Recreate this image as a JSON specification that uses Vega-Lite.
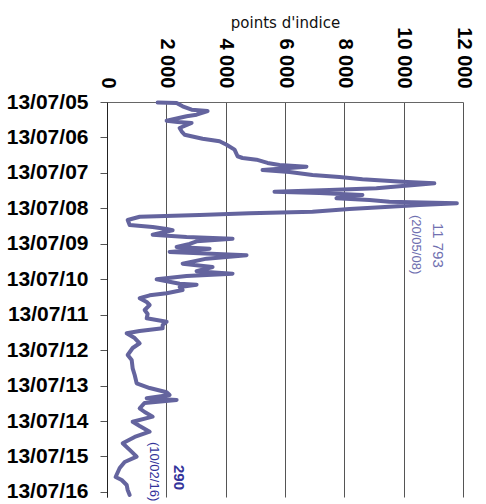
{
  "$schema": "https://vega.github.io/schema/vega-lite/v6.json",
  "width": 356,
  "height": 395,
  "autosize": {"type": "none"},
  "padding": {"left": 107, "top": 102, "right": 23, "bottom": 7},
  "background": "white",
  "config": {"view": {"stroke": null}},
  "datasets": {
    "bdi": [
      {"date": "2005-07-18", "value": 1707}, {"date": "2005-07-23", "value": 2347}, {"date": "2005-08-26", "value": 2549},
      {"date": "2005-09-30", "value": 2852}, {"date": "2005-10-14", "value": 3391}, {"date": "2005-11-21", "value": 3020},
      {"date": "2005-12-07", "value": 2683}, {"date": "2006-01-22", "value": 2010}, {"date": "2006-02-04", "value": 2380},
      {"date": "2006-02-14", "value": 2852}, {"date": "2006-04-07", "value": 2448}, {"date": "2006-05-11", "value": 2515},
      {"date": "2006-06-15", "value": 2616}, {"date": "2006-07-26", "value": 3222}, {"date": "2006-08-22", "value": 3794},
      {"date": "2006-09-26", "value": 4030}, {"date": "2006-11-16", "value": 4300}, {"date": "2007-01-23", "value": 4401},
      {"date": "2007-02-10", "value": 4569}, {"date": "2007-02-27", "value": 5040}, {"date": "2007-04-02", "value": 5411},
      {"date": "2007-04-23", "value": 5815}, {"date": "2007-05-11", "value": 6724}, {"date": "2007-05-24", "value": 6152},
      {"date": "2007-06-14", "value": 5243}, {"date": "2007-07-04", "value": 6152}, {"date": "2007-08-04", "value": 6926},
      {"date": "2007-08-25", "value": 7835}, {"date": "2007-09-17", "value": 8610}, {"date": "2007-10-12", "value": 9956},
      {"date": "2007-10-29", "value": 11034}, {"date": "2007-11-15", "value": 10360}, {"date": "2007-11-25", "value": 9956},
      {"date": "2007-12-19", "value": 9081}, {"date": "2008-01-06", "value": 7498}, {"date": "2008-01-23", "value": 5646},
      {"date": "2008-02-06", "value": 7161}, {"date": "2008-02-26", "value": 8610}, {"date": "2008-03-13", "value": 7835},
      {"date": "2008-03-31", "value": 7734}, {"date": "2008-04-18", "value": 8845}, {"date": "2008-05-05", "value": 9518},
      {"date": "2008-05-20", "value": 11793}, {"date": "2008-06-08", "value": 10528}, {"date": "2008-06-26", "value": 9518},
      {"date": "2008-07-19", "value": 8172}, {"date": "2008-08-16", "value": 6926}, {"date": "2008-09-02", "value": 4805},
      {"date": "2008-09-19", "value": 3121}, {"date": "2008-10-07", "value": 1101}, {"date": "2008-11-10", "value": 697},
      {"date": "2008-12-31", "value": 764}, {"date": "2009-01-21", "value": 1539}, {"date": "2009-02-10", "value": 2010},
      {"date": "2009-02-24", "value": 2212}, {"date": "2009-04-10", "value": 1539}, {"date": "2009-05-04", "value": 2683},
      {"date": "2009-05-21", "value": 4232}, {"date": "2009-06-17", "value": 3020}, {"date": "2009-07-15", "value": 2785},
      {"date": "2009-08-15", "value": 2347}, {"date": "2009-09-01", "value": 3458}, {"date": "2009-10-05", "value": 2111},
      {"date": "2009-11-08", "value": 4704}, {"date": "2009-12-13", "value": 3357}, {"date": "2010-02-03", "value": 2549},
      {"date": "2010-03-09", "value": 3559}, {"date": "2010-04-22", "value": 3020}, {"date": "2010-05-17", "value": 4232},
      {"date": "2010-06-10", "value": 2683}, {"date": "2010-07-14", "value": 1673}, {"date": "2010-08-28", "value": 2448},
      {"date": "2010-09-07", "value": 3020}, {"date": "2010-10-01", "value": 2448}, {"date": "2010-11-01", "value": 2549},
      {"date": "2010-12-05", "value": 2010}, {"date": "2010-12-26", "value": 1438}, {"date": "2011-01-25", "value": 1101},
      {"date": "2011-03-05", "value": 1337}, {"date": "2011-04-05", "value": 1438}, {"date": "2011-05-26", "value": 1269},
      {"date": "2011-07-06", "value": 1370}, {"date": "2011-08-20", "value": 1337}, {"date": "2011-09-24", "value": 2010},
      {"date": "2011-10-28", "value": 1875}, {"date": "2011-12-01", "value": 1875}, {"date": "2011-12-28", "value": 1101},
      {"date": "2012-01-21", "value": 663}, {"date": "2012-03-10", "value": 933}, {"date": "2012-05-03", "value": 1101},
      {"date": "2012-06-21", "value": 865}, {"date": "2012-09-01", "value": 697}, {"date": "2012-10-22", "value": 832},
      {"date": "2013-01-16", "value": 865}, {"date": "2013-03-26", "value": 933}, {"date": "2013-06-19", "value": 1000},
      {"date": "2013-08-07", "value": 1438}, {"date": "2013-09-20", "value": 2010}, {"date": "2013-10-18", "value": 2111},
      {"date": "2013-11-21", "value": 1337}, {"date": "2013-12-08", "value": 2347}, {"date": "2014-01-08", "value": 1269},
      {"date": "2014-03-04", "value": 1101}, {"date": "2014-04-11", "value": 1269}, {"date": "2014-05-29", "value": 1539},
      {"date": "2014-07-20", "value": 865}, {"date": "2014-09-02", "value": 1101}, {"date": "2014-10-31", "value": 1438},
      {"date": "2014-12-24", "value": 933}, {"date": "2015-02-27", "value": 529}, {"date": "2015-05-07", "value": 764},
      {"date": "2015-07-15", "value": 1000}, {"date": "2015-09-08", "value": 596}, {"date": "2015-11-09", "value": 428},
      {"date": "2016-02-10", "value": 290}, {"date": "2016-03-12", "value": 495}, {"date": "2016-05-02", "value": 663},
      {"date": "2016-06-23", "value": 697}, {"date": "2016-08-13", "value": 764}
    ],
    "notes": [
      {"label": "11 793", "kind": "maxValue", "date": "2008-12-11", "value": 11168},
      {"label": "(20/05/08)", "kind": "maxDate", "date": "2008-09-19", "value": 10428},
      {"label": "290", "kind": "minValue", "date": "2015-10-09", "value": 2414},
      {"label": "(10/02/16)", "kind": "minDate", "date": "2015-02-14", "value": 1572}
    ]
  },
  "encoding": {
    "x": {
      "field": "value", "type": "quantitative",
      "scale": {"domain": [0, 12000], "nice": false, "zero": true},
      "axis": {
        "orient": "top",
        "values": [0, 2000, 4000, 6000, 8000, 10000, 12000],
        "labelExpr": "replace(format(datum.value, ','), ',', ' ')",
        "labelAngle": 90, "labelAlign": "right", "labelBaseline": "middle",
        "labelPadding": 14, "labelFlush": false, "labelOverlap": false,
        "labelFont": "Liberation Sans Narrow, Liberation Sans", "labelFontWeight": "bold", "labelFontSize": 20, "labelColor": "#000",
        "ticks": false, "grid": true, "gridColor": "#555", "gridOpacity": 1, "gridWidth": 1,
        "domain": true, "domainColor": "#666", "domainWidth": 1,
        "title": "points d'indice", "titleFont": "DejaVu Sans", "titleFontWeight": "normal", "titleFontSize": 15,
        "titleColor": "#111", "titleBaseline": "alphabetic", "titleY": -75
      }
    },
    "y": {
      "field": "date", "type": "temporal",
      "scale": {"type": "utc", "domain": [{"year": 2005, "month": 7, "date": 13, "utc": true}, {"year": 2016, "month": 9, "date": 3, "utc": true}], "reverse": true, "nice": false},
      "axis": {
        "values": [
          {"year": 2005, "month": 7, "date": 13, "utc": true}, {"year": 2006, "month": 7, "date": 13, "utc": true},
          {"year": 2007, "month": 7, "date": 13, "utc": true}, {"year": 2008, "month": 7, "date": 13, "utc": true},
          {"year": 2009, "month": 7, "date": 13, "utc": true}, {"year": 2010, "month": 7, "date": 13, "utc": true},
          {"year": 2011, "month": 7, "date": 13, "utc": true}, {"year": 2012, "month": 7, "date": 13, "utc": true},
          {"year": 2013, "month": 7, "date": 13, "utc": true}, {"year": 2014, "month": 7, "date": 13, "utc": true},
          {"year": 2015, "month": 7, "date": 13, "utc": true}, {"year": 2016, "month": 7, "date": 13, "utc": true}
        ],
        "format": "%d/%m/%y",
        "labelFont": "Liberation Sans", "labelFontWeight": "bold", "labelFontSize": 21, "labelColor": "#000",
        "labelPadding": 12, "labelOverlap": false, "labelFlush": false, "labelBaseline": "middle",
        "tickSize": 7, "tickColor": "#555", "domainColor": "#222", "domainWidth": 1,
        "grid": false, "title": null
      }
    }
  },
  "layer": [
    {
      "data": {"name": "bdi"},
      "mark": {"type": "line", "color": "#64649e", "strokeWidth": 4, "strokeJoin": "round", "strokeCap": "round"},
      "encoding": {"order": {"field": "date", "type": "temporal"}}
    },
    {
      "data": {"name": "notes"},
      "transform": [{"filter": "datum.kind === 'maxValue'"}],
      "mark": {"type": "text", "angle": 90, "align": "left", "baseline": "middle", "font": "Liberation Sans", "fontSize": 15, "color": "#7070b0"},
      "encoding": {"text": {"field": "label"}}
    },
    {
      "data": {"name": "notes"},
      "transform": [{"filter": "datum.kind === 'maxDate'"}],
      "mark": {"type": "text", "angle": 90, "align": "left", "baseline": "middle", "font": "Liberation Sans", "fontSize": 13, "color": "#7070b0"},
      "encoding": {"text": {"field": "label"}}
    },
    {
      "data": {"name": "notes"},
      "transform": [{"filter": "datum.kind === 'minValue'"}],
      "mark": {"type": "text", "angle": 90, "align": "left", "baseline": "middle", "font": "Liberation Sans", "fontSize": 15, "fontWeight": "bold", "color": "#33339a"},
      "encoding": {"text": {"field": "label"}}
    },
    {
      "data": {"name": "notes"},
      "transform": [{"filter": "datum.kind === 'minDate'"}],
      "mark": {"type": "text", "angle": 90, "align": "left", "baseline": "middle", "font": "Liberation Sans", "fontSize": 13, "color": "#33339a"},
      "encoding": {"text": {"field": "label"}}
    }
  ]
}
